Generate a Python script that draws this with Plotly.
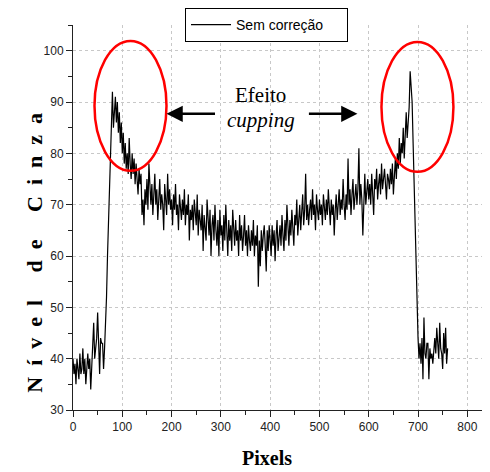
import plotly.graph_objects as go

# Sampling step along the profile (pixels)
pixel_step = 2

# Grey level along the profile, one value every 2 pixels starting at 0
gray_levels = [
    40, 37, 39, 35, 40, 38, 36, 41, 37, 38,   # 0-18
    42, 37, 40, 35, 39, 41, 38, 40, 34, 39,   # 20-38
    41, 47, 40, 42, 44, 49, 42, 37, 44, 43,   # 40-58
    43, 38, 42, 46, 52, 60, 67, 75, 82, 88,   # 60-78
    92, 85, 89, 91, 86, 90, 84, 88, 82, 86,   # 80-98
    80, 84, 78, 82, 77, 80, 76, 83, 78, 75,   # 100-118
    80, 76, 79, 74, 78, 75, 72, 77, 74, 76,   # 120-138
    68, 71, 66, 73, 70, 75, 69, 78, 72, 70,   # 140-158
    74, 68, 72, 76, 70, 73, 67, 71, 75, 69,   # 160-178
    72, 70, 65, 74, 71, 68, 76, 70, 73, 69,   # 180-198
    71, 66, 72, 69, 74, 68, 70, 65, 72, 69,   # 200-218
    67, 71, 68, 73, 66, 70, 68, 72, 63, 69,   # 220-238
    67, 70, 65, 71, 68, 66, 72, 64, 69, 67,   # 240-258
    65, 70, 61, 68, 66, 63, 71, 67, 64, 69,   # 260-278
    60, 66, 68, 63, 70, 65, 62, 67, 60, 69,   # 280-298
    64, 66, 61, 68, 63, 70, 65, 60, 67, 63,   # 300-318
    66, 61, 69, 64, 62, 67, 63, 65, 60, 68,   # 320-338
    63, 66, 61, 64, 68, 62, 65, 60, 66, 63,   # 340-358
    61, 65, 62, 67, 60, 64, 62, 66, 54, 63,   # 360-378
    58, 65, 61, 64, 66, 62, 57, 65, 61, 66,   # 380-398
    63, 60, 66, 62, 65, 59, 64, 67, 61, 63,   # 400-418
    66, 62, 68, 64, 61, 67, 63, 70, 65, 62,   # 420-438
    67, 64, 69, 65, 62, 68, 66, 71, 64, 67,   # 440-458
    70, 65, 68, 72, 66, 69, 76, 67, 70, 66,   # 460-478
    69, 71, 67, 73, 68, 70, 65, 72, 69, 67,   # 480-498
    71, 68, 70, 66, 72, 69, 67, 71, 68, 73,   # 500-518
    69, 66, 71, 68, 70, 64, 69, 72, 67, 70,   # 520-538
    73, 68, 71, 69, 75, 70, 67, 72, 69, 79,   # 540-558
    70, 73, 68, 72, 75, 69, 71, 74, 70, 73,   # 560-578
    81, 70, 74, 71, 64, 73, 76, 70, 72, 75,   # 580-598
    71, 74, 70, 76, 72, 68, 75, 73, 77, 71,   # 600-618
    74, 76, 72, 78, 73, 75, 77, 74, 71, 76,   # 620-638
    75, 73, 77, 74, 78, 72, 76, 79, 75, 80,   # 640-658
    77, 83, 78, 82, 80, 85, 79, 84, 88, 83,   # 660-678
    86, 89, 96, 92, 90, 82, 74, 66, 58, 50,   # 680-698
    44, 40, 43, 39, 44, 36, 48, 41, 40, 43,   # 700-718
    43, 36, 42, 40, 41, 39, 42, 44, 41, 46,   # 720-738
    43, 40, 47, 42, 41, 38, 45, 41, 46, 39,   # 740-758
    42,                                       # 760
]
pixels = [i * pixel_step for i in range(len(gray_levels))]

series_name = "Sem correção"
x_title = "Pixels"
y_title = "Nível de Cinza"
x_ticks = [0, 100, 200, 300, 400, 500, 600, 700, 800]
y_ticks = [30, 40, 50, 60, 70, 80, 90, 100]

fig = go.Figure()
fig.add_trace(go.Scatter(
    x=pixels, y=gray_levels, mode="lines", name=series_name,
    line=dict(color="black", width=1.2),
))

axis_common = dict(
    showline=True, linecolor="#222", linewidth=1,
    ticks="outside", ticklen=6, tickwidth=1, tickcolor="#222",
    showgrid=True, gridcolor="#c8c8c8", griddash="dot", gridwidth=1,
    zeroline=False, mirror=False, automargin=False,
    tickfont=dict(family="Liberation Sans", size=12, color="#222"),
)

fig.update_xaxes(range=[0, 846], tickvals=x_ticks, **axis_common,
                 minor=dict(dtick=50, tick0=0, ticks="outside", ticklen=4, tickcolor="#222", showgrid=False))
fig.update_yaxes(range=[30, 105], tickvals=y_ticks, domain=[0, 385 / 402], **axis_common,
                 minor=dict(dtick=5, tick0=30, ticks="outside", ticklen=4, tickcolor="#222", showgrid=False))

# Ellipses marking the cupping effect
fig.add_shape(type="circle", xref="x", yref="y", x0=43.6, x1=189.7, y0=76.6, y1=101.9,
              line=dict(color="red", width=2.5))
fig.add_shape(type="circle", xref="x", yref="y", x0=625.8, x1=771.8, y0=76.4, y1=101.7,
              line=dict(color="red", width=2.5))

serif = "Liberation Serif"
fig.add_annotation(x=381, y=91.3, xref="x", yref="y", text="Efeito", showarrow=False,
                   font=dict(family=serif, size=21, color="black"))
fig.add_annotation(x=381, y=86.5, xref="x", yref="y", text="<i>cupping</i>", showarrow=False,
                   font=dict(family=serif, size=21, color="black"))
fig.add_annotation(x=189.7, y=87.7, xref="x", yref="y", text="", showarrow=True,
                   ax=50, ay=0, arrowhead=2, arrowsize=1.3, arrowwidth=2.5, arrowcolor="black")
fig.add_annotation(x=577, y=87.7, xref="x", yref="y", text="", showarrow=True,
                   ax=-50, ay=0, arrowhead=2, arrowsize=1.3, arrowwidth=2.5, arrowcolor="black")

# Axis titles
fig.add_annotation(x=0.465, y=-0.119, xref="paper", yref="paper", text="<b>" + x_title + "</b>",
                   showarrow=False, yanchor="middle",
                   font=dict(family=serif, size=20, color="black"))
spaced = "\u2002".join(list(y_title))
fig.add_annotation(x=-0.127, y=0.39, xref="paper", yref="paper", text="<b>" + spaced + "</b>",
                   showarrow=False, textangle=-90,
                   font=dict(family=serif, size=22, color="black"))

# The page body adds an 8 px margin, so the figure is 8 px smaller and offset accordingly
fig.update_layout(
    width=482, height=464,
    margin=dict(l=65, r=0, t=0, b=62, autoexpand=False),
    paper_bgcolor="white", plot_bgcolor="white",
    showlegend=True,
    legend=dict(x=0.2686, y=1.0, xanchor="left", yanchor="top",
                orientation="h", entrywidth=106, entrywidthmode="pixels",
                bgcolor="white", bordercolor="black", borderwidth=1,
                font=dict(family="Liberation Sans", size=14, color="black"),
                itemwidth=40),
)

fig.write_html("out.html")
